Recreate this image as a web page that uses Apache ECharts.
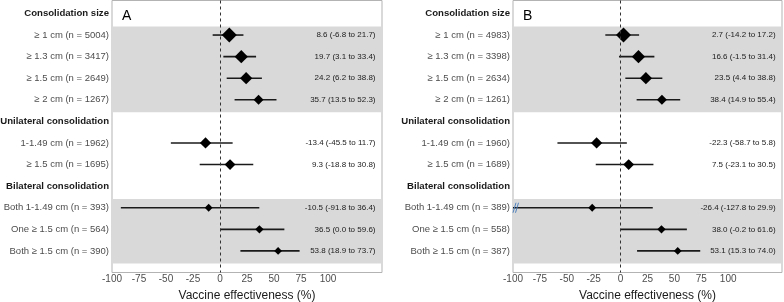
<!DOCTYPE html>
<html>
<head>
<meta charset="utf-8">
<script src="https://cdn.jsdelivr.net/npm/echarts@6/dist/echarts.min.js"></script>
<style>
  html, body { margin: 0; padding: 0; background: #fff; }
  #chart { width: 784px; height: 302px; }
</style>
</head>
<body>
<div id="chart"></div>
<script>
// groups and subgroups (same for both panels)
const groupNames = ['Consolidation size', 'Unilateral consolidation', 'Bilateral consolidation'];
const groupSizes = [4, 2, 3];
const subLabels = ['≥ 1 cm', '≥ 1.3 cm', '≥ 1.5 cm', '≥ 2 cm', '1-1.49 cm', '≥ 1.5 cm', 'Both 1-1.49 cm', 'One ≥ 1.5 cm', 'Both ≥ 1.5 cm'];

// panel A
const nA = [5004, 3417, 2649, 1267, 1962, 1695, 393, 564, 390];
const estA = [8.6, 19.7, 24.2, 35.7, -13.4, 9.3, -10.5, 36.5, 53.8];
const loA = [-6.8, 3.1, 6.2, 13.5, -45.5, -18.8, -91.8, 0.0, 18.9];
const hiA = [21.7, 33.4, 38.8, 52.3, 11.7, 30.8, 36.4, 59.6, 73.7];

// panel B
const nB = [4983, 3398, 2634, 1261, 1960, 1689, 389, 558, 387];
const estB = [2.7, 16.6, 23.5, 38.4, -22.3, 7.5, -26.4, 38.0, 53.1];
const loB = [-14.2, -1.5, 4.4, 14.9, -58.7, -23.1, -127.8, -0.2, 15.3];
const hiB = [17.2, 31.4, 38.8, 55.4, 5.8, 30.5, 29.9, 61.6, 74.0];

const xTicks = [-100, -75, -50, -25, 0, 25, 50, 75, 100];

const X_MIN = -100, X_MAX = 150, TEXT_X = 144;

// row index of each subgroup + text for every row
function buildRows(n) {
    const rowText = [];
    const rowOf = [];
    let k = 0;
    groupNames.forEach(function (g, gi) {
        rowText.push('{h|' + g + '}');
        for (let j = 0; j < groupSizes[gi]; j++) {
            rowOf.push(rowText.length);
            rowText.push('{n|' + subLabels[k] + ' (n = ' + n[k] + ')}');
            k++;
        }
    });
    return { rowText: rowText, rowOf: rowOf };
}

const chart = echarts.init(document.getElementById('chart'));

function panelSeries(idx, n, est, lo, hi) {
    const rows = buildRows(n);
    const ciData = est.map(function (e, i) { return [lo[i], rows.rowOf[i], hi[i]]; });
    const ptData = est.map(function (e, i) { return [e, rows.rowOf[i], n[i]]; });
    const txtData = est.map(function (e, i) { return [TEXT_X, rows.rowOf[i]]; });
    const txt = est.map(function (e, i) {
        return e.toFixed(1) + ' (' + lo[i].toFixed(1) + ' to ' + hi[i].toFixed(1) + ')';
    });
    return [
        {
            type: 'custom',
            xAxisIndex: idx, yAxisIndex: idx,
            z: 2,
            silent: true,
            data: ciData,
            renderItem: function (params, api) {
                const y = api.value(1);
                const l = api.value(0);
                const p1 = api.coord([Math.max(l, X_MIN), y]);
                const p2 = api.coord([api.value(2), y]);
                const children = [{
                    type: 'line',
                    shape: { x1: p1[0], y1: p1[1], x2: p2[0], y2: p2[1] },
                    style: { stroke: '#1a1a1a', lineWidth: 1.6 }
                }];
                if (l < X_MIN) {
                    // break marks for a clipped interval
                    [1.5, 4].forEach(function (dx) {
                        children.push({
                            type: 'line',
                            shape: { x1: p1[0] + dx - 1.5, y1: p1[1] + 5, x2: p1[0] + dx + 1.5, y2: p1[1] - 5 },
                            style: { stroke: '#4f81bd', lineWidth: 1 }
                        });
                    });
                }
                return { type: 'group', children: children };
            },
            markArea: {
                silent: true,
                itemStyle: { color: '#d9d9d9' },
                data: [
                    [{ yAxis: 0.6 }, { yAxis: 4.58 }],
                    [{ yAxis: 8.6 }, { yAxis: 11.58 }]
                ]
            },
            markLine: {
                silent: true,
                symbol: 'none',
                label: { show: false },
                lineStyle: { color: '#333', width: 1, type: [3, 3] },
                data: [{ xAxis: 0 }]
            }
        },
        {
            type: 'scatter',
            xAxisIndex: idx, yAxisIndex: idx,
            z: 4,
            symbol: 'diamond',
            symbolSize: function (v) { return 5 + 10 * Math.sqrt(v[2] / 5004); },
            itemStyle: { color: '#000', opacity: 1 },
            data: ptData
        },
        {
            type: 'custom',
            xAxisIndex: idx, yAxisIndex: idx,
            z: 3,
            silent: true,
            data: txtData,
            renderItem: function (params, api) {
                const p = api.coord([api.value(0), api.value(1)]);
                return {
                    type: 'text',
                    style: {
                        text: txt[params.dataIndex],
                        x: p[0], y: p[1],
                        align: 'right', verticalAlign: 'middle',
                        fill: '#1a1a1a',
                        font: '8px "Liberation Sans", Arial, sans-serif'
                    }
                };
            }
        }
    ];
}

function yAxisFor(idx, n) {
    const rows = buildRows(n);
    return {
        type: 'value',
        gridIndex: idx,
        inverse: true,
        min: -0.6,
        max: 12,
        axisLine: { show: false },
        axisTick: { show: false },
        splitLine: { show: false },
        axisLabel: {
            customValues: rows.rowText.map(function (t, i) { return i; }),
            margin: 3,
            formatter: function (v) { return rows.rowText[Math.round(v)] || ''; },
            rich: {
                h: { fontWeight: 'bold', fontSize: 9.6, color: '#1a1a1a', fontFamily: 'Liberation Sans' },
                n: { fontSize: 9.5, color: '#4d4d4d', fontFamily: 'Liberation Sans' }
            }
        }
    };
}

function xAxisFor(idx) {
    return {
        type: 'value',
        gridIndex: idx,
        min: X_MIN,
        max: X_MAX,
        interval: 25,
        axisLine: { show: false },
        axisTick: { show: false },
        splitLine: { show: false },
        axisLabel: {
            margin: 2,
            fontSize: 10,
            color: '#4d4d4d',
            fontFamily: 'Liberation Sans',
            formatter: function (v) { return xTicks.indexOf(v) >= 0 ? String(v) : ''; }
        },
        name: 'Vaccine effectiveness (%)',
        nameLocation: 'middle',
        nameGap: 13,
        nameTextStyle: { fontSize: 12, color: '#1a1a1a', fontFamily: 'Liberation Sans' }
    };
}

const option = {
    animation: false,
    backgroundColor: '#fff',
    title: [
        { text: 'A', left: 122, top: 9, padding: 0, textStyle: { fontSize: 14, fontWeight: 'normal', color: '#000', fontFamily: 'Liberation Sans' } },
        { text: 'B', left: 523, top: 9, padding: 0, textStyle: { fontSize: 14, fontWeight: 'normal', color: '#000', fontFamily: 'Liberation Sans' } }
    ],
    grid: [
        { left: 112, top: 0.5, width: 270, height: 272, outerBoundsMode: 'none', show: true, borderColor: '#b3b3b3', borderWidth: 1, backgroundColor: 'transparent' },
        { left: 513, top: 0.5, width: 269, height: 272, outerBoundsMode: 'none', show: true, borderColor: '#b3b3b3', borderWidth: 1, backgroundColor: 'transparent' }
    ],
    xAxis: [xAxisFor(0), xAxisFor(1)],
    yAxis: [yAxisFor(0, nA), yAxisFor(1, nB)],
    series: panelSeries(0, nA, estA, loA, hiA).concat(panelSeries(1, nB, estB, loB, hiB))
};

chart.setOption(option);
</script>
</body>
</html>
